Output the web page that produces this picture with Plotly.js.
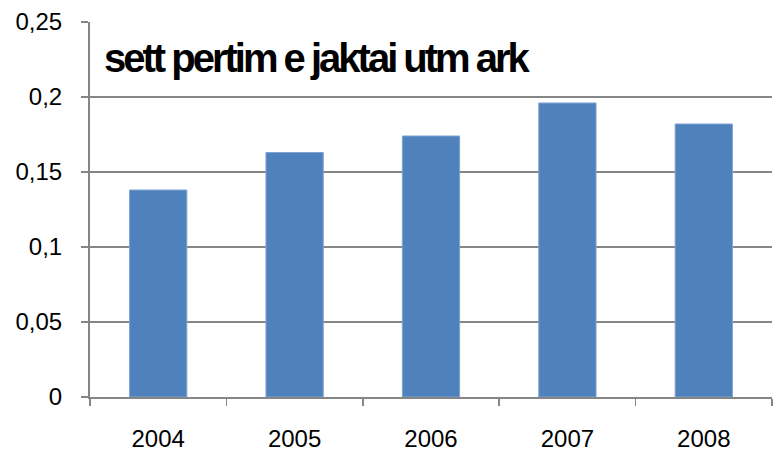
<!DOCTYPE html>
<html>
<head>
<meta charset="utf-8">
<script src="https://cdn.plot.ly/plotly-3.0.1.min.js"></script>
<style>
html,body{margin:0;padding:0;background:#fff;}
#chart{width:773px;height:453px;}
.annotation-text{letter-spacing:-3px;}
</style>
</head>
<body>
<div id="chart"></div>
<script>
var years = ["2004", "2005", "2006", "2007", "2008"];
var values = [0.138, 0.163, 0.174, 0.196, 0.182];
var yTickVals = [0, 0.05, 0.1, 0.15, 0.2, 0.25];
var yTickText = ["0", "0,05", "0,1", "0,15", "0,2", "0,25"];
var titleText = "sett pertim e jaktai utm ark";

var trace = {
  type: "bar",
  x: years,
  y: values,
  marker: {color: "#4F81BD", line: {color: "#7FA3D3", width: 1}},
  hoverinfo: "x+y"
};

var layout = {
  width: 773,
  height: 453,
  margin: {l: 90, r: 1, t: 22, b: 56, pad: 0},
  paper_bgcolor: "#ffffff",
  plot_bgcolor: "#ffffff",
  showlegend: false,
  bargap: 0.58,
  separators: ",.",
  font: {family: "Liberation Sans, Arial, sans-serif", size: 24, color: "#000000"},
  xaxis: {
    type: "category",
    showline: true,
    linecolor: "#868686",
    linewidth: 2,
    ticks: "outside",
    tickson: "boundaries",
    ticklen: 7,
    tickwidth: 1.5,
    tickcolor: "#868686",
    showgrid: false,
    zeroline: false,
    ticklabelstandoff: 19,
    tickfont: {size: 24, color: "#000000"}
  },
  yaxis: {
    range: [0, 0.25],
    tickvals: yTickVals,
    ticktext: yTickText,
    showline: true,
    linecolor: "#868686",
    linewidth: 2,
    ticks: "outside",
    ticklen: 7,
    tickwidth: 1.5,
    tickcolor: "#868686",
    showgrid: true,
    gridcolor: "#868686",
    gridwidth: 1.5,
    zeroline: false,
    ticklabelstandoff: 14,
    tickfont: {size: 24, color: "#000000"}
  },
  annotations: [{
    text: "<b>" + titleText + "</b>",
    xref: "paper", yref: "paper",
    x: 0.018, y: 0.905,
    xanchor: "left", yanchor: "middle",
    showarrow: false,
    font: {family: "Liberation Sans, Arial, sans-serif", size: 40, color: "#000000"}
  }]
};

Plotly.newPlot("chart", [trace], layout, {displayModeBar: false, staticPlot: true});
</script>
</body>
</html>
